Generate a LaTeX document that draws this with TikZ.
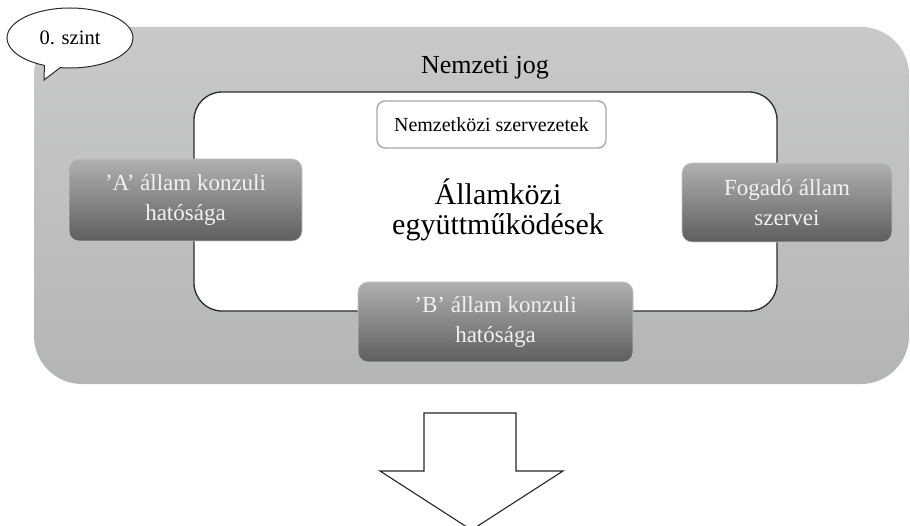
\documentclass[tikz,border=0pt]{standalone}
\usepackage{fontspec}
\setmainfont{Liberation Serif}
\usetikzlibrary{shapes.callouts,shapes.geometric}

\definecolor{outertop}{HTML}{C9C9C9}
\definecolor{outerbot}{HTML}{B4B6B6}
\definecolor{boxtop}{HTML}{B0B0B0}
\definecolor{boxbot}{HTML}{5E5E5E}
\definecolor{boxedge}{HTML}{C4C4C4}
\definecolor{boxtext}{HTML}{F2F2F2}
\definecolor{frameline}{HTML}{2B2B2B}
\definecolor{orgedge}{HTML}{A8A8A8}

\begin{document}
\begin{tikzpicture}[x=1pt,y=-1pt,
  gbox/.style={rounded corners=10pt, top color=boxtop, bottom color=boxbot,
    draw=boxedge, line width=0.6pt, text=boxtext, align=center, inner sep=0pt,
    font=\fontsize{23}{30}\selectfont},
  orgbox/.style={rounded corners=8pt, fill=white, draw=orgedge, line width=1.4pt,
    inner sep=0pt, font=\fontsize{20}{24}\selectfont},
  levelnote/.style={ellipse callout, draw=frameline, fill=white, line width=1pt,
    inner sep=0pt, font=\fontsize{20.5}{24}\selectfont},
  arrowshape/.style={fill=white, draw=black!85, line width=1.1pt, line join=miter}
]
\useasboundingbox (0,0) rectangle (910,526);

% national law background
\path[rounded corners=48pt, top color=outertop, bottom color=outerbot]
  (34,27) rectangle (909,384);
\node[font=\fontsize{26}{30}\selectfont] (nj) at (485,68) {Nemzeti jog};

% intergovernmental frame
\draw[rounded corners=28pt, fill=white, draw=frameline, line width=1.3pt]
  (194,92) rectangle (777,311);
\node[orgbox, minimum width=229pt, minimum height=47pt] (nsz) at (491.5,124.5)
  {Nemzetközi szervezetek};
\node[align=center, inner sep=0pt, font=\fontsize{30}{30}\selectfont] (ak)
  at (498,210) {Államközi\\együttműködések};

% actors
\node[gbox, minimum width=233pt, minimum height=82pt] (a) at (185.5,200)
  {’A’ állam konzuli\\hatósága};
\node[gbox, minimum width=210pt, minimum height=79pt] (f) at (787,202.5)
  {Fogadó állam\\szervei};
\node[gbox, minimum width=275pt, minimum height=80pt] (b) at (495.5,322)
  {’B’ állam konzuli\\hatósága};

% level label
\coordinate (tip) at (44,80);
\node[levelnote, minimum width=126pt, minimum height=60pt,
  callout absolute pointer={(tip)}] (lvl) at (70,38) {0. szint};

% downward block arrow
\draw[arrowshape] (424,413) -- (516,413) -- (516,471) -- (563,471)
  -- (471.5,530) -- (380,471) -- (424,471) -- cycle;
\end{tikzpicture}
\end{document}
